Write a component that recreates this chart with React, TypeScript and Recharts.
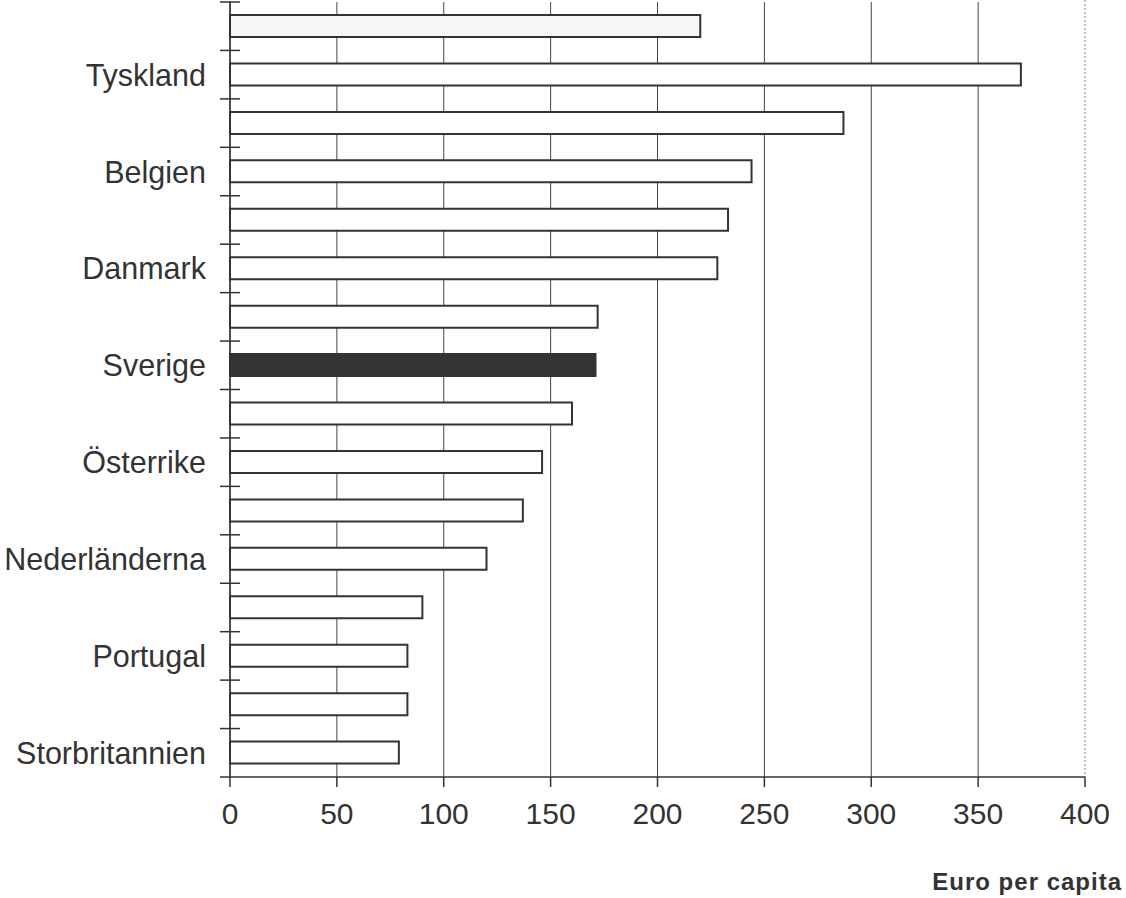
import { BarChart, Bar, XAxis, YAxis, CartesianGrid, Cell } from 'recharts'

const categories = [
  '', 'Tyskland', '', 'Belgien', '', 'Danmark', '', 'Sverige',
  '', 'Österrike', '', 'Nederländerna', '', 'Portugal', '', 'Storbritannien',
]
const values = [220, 370, 287, 244, 233, 228, 172, 171, 160, 146, 137, 120, 90, 83, 83, 79]
const xTicks = [0, 50, 100, 150, 200, 250, 300, 350, 400]
const highlight = 'Sverige'

const W = 1126
const H = 898
const AXIS_X = 230
const PLOT_TOP = 2
const PLOT_H = 775
const BAND = PLOT_H / categories.length
const INK = '#333'
const FONT = '"Liberation Sans", Arial, sans-serif'

const data = categories.map((name, i) => ({ id: `c${i}`, name, value: values[i] }))

function YTick(props: any) {
  const { y, index } = props
  const name = categories[index]
  const top = y - BAND / 2
  return (
    <g>
      <line x1={AXIS_X - 10} x2={AXIS_X + 10} y1={top} y2={top} stroke={INK} strokeWidth={1.5} />
      {index === categories.length - 1 && (
        <line x1={AXIS_X - 10} x2={AXIS_X} y1={top + BAND} y2={top + BAND} stroke={INK} strokeWidth={1.5} />
      )}
      {name && (
        <text x={AXIS_X - 24} y={y} dy="0.36em" textAnchor="end" fill={INK} fontSize={30.5} fontFamily={FONT}>
          {name}
        </text>
      )}
    </g>
  )
}

function GridLine(props: any) {
  const { x1, y1, x2, y2, index } = props
  const last = index === xTicks.length - 1
  return (
    <line
      key={`g${index}`}
      x1={x1}
      y1={last ? 0 : y1}
      x2={x2}
      y2={y2}
      stroke={last ? '#888' : '#444'}
      strokeWidth={1}
      strokeDasharray={last ? '2 2' : undefined}
    />
  )
}

export default function App() {
  return (
    <div style={{ position: 'absolute', left: 0, top: 0, width: W, height: H, background: '#fff' }}>
      <BarChart
        width={W}
        height={H}
        data={data}
        layout="vertical"
        margin={{ top: PLOT_TOP, right: 41, bottom: 21, left: 0 }}
        barSize={22}
      >
        <CartesianGrid horizontal={false} vertical={GridLine as any} />
        <XAxis
          type="number"
          domain={[0, 400]}
          ticks={xTicks}
          height={100}
          tickSize={10}
          tickMargin={16}
          axisLine={{ stroke: INK, strokeWidth: 1.5 }}
          tickLine={{ stroke: INK, strokeWidth: 1.5 }}
          tick={{ fill: INK, fontSize: 30, fontFamily: FONT }}
          label={{
            content: () => (
              <text
                x={1122}
                y={890}
                textAnchor="end"
                fill={INK}
                fontSize={24}
                fontWeight="bold"
                letterSpacing={1}
                fontFamily={FONT}
              >
                Euro per capita
              </text>
            ),
          }}
        />
        <YAxis
          type="category"
          dataKey="id"
          width={AXIS_X}
          axisLine={{ stroke: INK, strokeWidth: 1.5 }}
          tickLine={false}
          interval={0}
          tick={YTick}
        />
        <Bar dataKey="value" stroke={INK} strokeWidth={2} isAnimationActive={false}>
          {data.map((d, i) => (
            <Cell key={d.id} fill={d.name === highlight ? INK : i === 0 ? '#f6f6f6' : '#fff'} />
          ))}
        </Bar>
      </BarChart>
    </div>
  )
}
